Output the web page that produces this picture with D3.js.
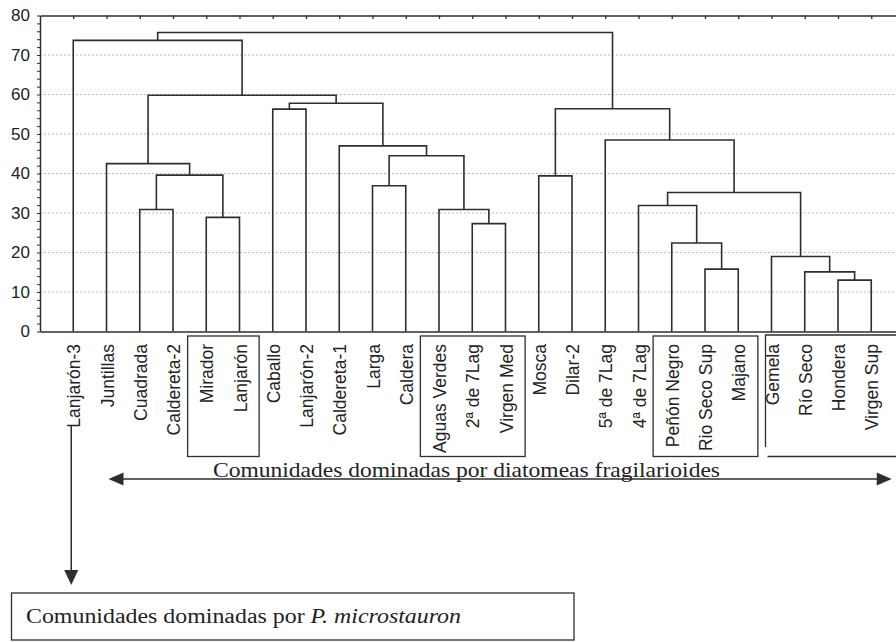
<!DOCTYPE html>
<html>
<head>
<meta charset="utf-8">
<script src="https://cdn.jsdelivr.net/npm/d3@7"></script>
<style>
body { margin: 0; background: #fff; }
svg { display: block; }
</style>
</head>
<body>
<svg id="chart" width="896" height="642"></svg>
<script>
// leaves in dendrogram order
var leaves = ['Lanjarón-3', 'Juntillas', 'Cuadrada', 'Caldereta-2', 'Mirador', 'Lanjarón', 'Caballo',
	'Lanjarón-2', 'Caldereta-1', 'Larga', 'Caldera', 'Aguas Verdes', '2ª de 7Lag', 'Virgen Med',
	'Mosca', 'Dilar-2', '5ª de 7Lag', '4ª de 7Lag', 'Peñón Negro', 'Rio Seco Sup', 'Majano',
	'Gemela', 'Río Seco', 'Hondera', 'Virgen Sup'];

// linkage: [left, right, height]; a string is a leaf, a number is an earlier merge
var merges = [
	['Cuadrada', 'Caldereta-2', 30.9],   // 0
	['Mirador', 'Lanjarón', 28.9],       // 1
	[0, 1, 39.6],                        // 2
	['Juntillas', 2, 42.5],              // 3
	['Caballo', 'Lanjarón-2', 56.3],     // 4
	['Larga', 'Caldera', 36.9],          // 5
	['2ª de 7Lag', 'Virgen Med', 27.3],  // 6
	['Aguas Verdes', 6, 30.9],           // 7
	[5, 7, 44.5],                        // 8
	['Caldereta-1', 8, 47.0],            // 9
	[4, 9, 57.8],                        // 10
	[3, 10, 59.8],                       // 11
	['Lanjarón-3', 11, 73.7],            // 12
	['Mosca', 'Dilar-2', 39.4],          // 13
	['Rio Seco Sup', 'Majano', 15.8],    // 14
	['Peñón Negro', 14, 22.4],           // 15
	['4ª de 7Lag', 15, 31.9],            // 16
	['Hondera', 'Virgen Sup', 13.0],     // 17
	['Río Seco', 17, 15.1],              // 18
	['Gemela', 18, 19.0],                // 19
	[16, 19, 35.2],                      // 20
	['5ª de 7Lag', 20, 48.5],            // 21
	[13, 21, 56.4],                      // 22
	[12, 22, 75.7]                       // 23
];

var yTicks = d3.range(0, 81, 2);
var gridValues = [10, 20, 30, 40, 50, 60, 70];
var boxedGroups = [['Mirador', 'Lanjarón'], ['Aguas Verdes', 'Virgen Med'], ['Peñón Negro', 'Majano']];
var openGroup = ['Gemela', 'Virgen Sup'];
var fragText = 'Comunidades dominadas por diatomeas fragilarioides';
var microText = ['Comunidades dominadas por ', 'P. microstauron'];

var ink = '#2e2e2e';
var sans = '"Liberation Sans", Arial, sans-serif';
var serif = '"Liberation Serif", "Times New Roman", serif';

var svg = d3.select('#chart');
var x = d3.scalePoint().domain(leaves).range([40, 904.5]).padding(1);
var y = d3.scaleLinear().domain([0, 80]).range([331.5, 15.5]);
var step = x.step();

// grid
svg.append('g').selectAll('line')
		.data(gridValues)
	.enter()
		.append('line')
		.attr('x1', 40).attr('x2', 896)
		.attr('y1', function (d) { return y(d); })
		.attr('y2', function (d) { return y(d); })
		.attr('stroke', '#b8b8b8')
		.attr('stroke-width', 1)
		.attr('stroke-dasharray', '2,2');

// left axis with minor ticks, labels every 10
var yAxis = svg.append('g')
	.attr('transform', 'translate(40,0)')
	.call(d3.axisLeft(y).tickValues(yTicks).tickSize(3).tickSizeOuter(0).tickPadding(7)
		.tickFormat(function (d) { return d % 10 === 0 ? d : ''; }));
yAxis.selectAll('line').attr('stroke', ink);
yAxis.select('.domain').attr('stroke', ink).attr('stroke-width', 1.5);
yAxis.selectAll('text').attr('font-family', sans).attr('font-size', 17).attr('fill', '#222');

// top frame with inward ticks
var topAxis = svg.append('g')
	.attr('transform', 'translate(0,' + y(80) + ')')
	.call(d3.axisTop(x).tickSize(-3.5).tickSizeOuter(0).tickFormat(''));
topAxis.selectAll('line').attr('stroke', ink).attr('stroke-width', 1.3);
topAxis.select('.domain').attr('stroke', ink).attr('stroke-width', 1.5);

// bottom axis with rotated leaf labels
var xAxis = svg.append('g')
	.attr('transform', 'translate(0,' + y(0) + ')')
	.call(d3.axisBottom(x).tickSize(0).tickSizeOuter(0));
xAxis.select('.domain').attr('stroke', ink).attr('stroke-width', 1.5);
xAxis.selectAll('text')
	.attr('font-family', sans)
	.attr('font-size', 17.5)
	.attr('fill', '#222')
	.attr('text-anchor', 'end')
	.attr('x', -12.5)
	.attr('y', 6.5)
	.attr('dy', null)
	.attr('transform', 'rotate(-90)');

// dendrogram links
var nodes = [];
var pos = function (ref) {
	if (typeof ref === 'string') {
		return {x: x(ref), h: 0};
	}
	return nodes[ref];
};
merges.forEach(function (m) {
	var a = pos(m[0]);
	var b = pos(m[1]);
	nodes.push({x: (a.x + b.x) / 2, h: m[2], a: a, b: b});
});
svg.append('g').selectAll('path')
		.data(nodes)
	.enter()
		.append('path')
		.attr('fill', 'none')
		.attr('stroke', ink)
		.attr('stroke-width', 1.6)
		.attr('d', function (d) {
			return 'M' + d.a.x + ',' + y(d.a.h) + 'V' + y(d.h) + 'H' + d.b.x + 'V' + y(d.b.h);
		});

// boxes round groups of labels
svg.append('g').selectAll('rect')
		.data(boxedGroups)
	.enter()
		.append('rect')
		.attr('x', function (d) { return x(d[0]) - step / 2 - 2; })
		.attr('width', function (d) { return x(d[1]) - x(d[0]) + step + 5; })
		.attr('y', 336)
		.attr('height', 120.5)
		.attr('fill', 'none')
		.attr('stroke', ink)
		.attr('stroke-width', 1.3);

// open bracket round the last group
var gx = x(openGroup[0]) - 6;
var bracket = svg.append('g').attr('stroke', ink).attr('stroke-width', 1.3).attr('fill', 'none');
bracket.append('path').attr('d', 'M' + gx + ',447V335H896');
bracket.append('path').attr('d', 'M' + (gx + 2) + ',456.5H896');

// horizontal double arrow
var ax0 = x(leaves[1]) + 2;
var ax1 = x(openGroup[1]) + 20.5;
var ay = 479;
svg.append('line')
	.attr('x1', ax0 + 10).attr('x2', ax1 - 10)
	.attr('y1', ay).attr('y2', ay)
	.attr('stroke', ink).attr('stroke-width', 1.5);
svg.append('path')
	.attr('d', 'M' + ax0 + ',' + ay + 'L' + (ax0 + 15) + ',' + (ay - 6.5) + 'L' + (ax0 + 15) + ',' + (ay + 6.5) + 'Z')
	.attr('fill', ink);
svg.append('path')
	.attr('d', 'M' + ax1 + ',' + ay + 'L' + (ax1 - 15) + ',' + (ay - 6.5) + 'L' + (ax1 - 15) + ',' + (ay + 6.5) + 'Z')
	.attr('fill', ink);
svg.append('text')
	.attr('x', 213)
	.attr('y', 476.5)
	.attr('font-family', serif)
	.attr('font-size', 21)
	.attr('fill', '#222')
	.attr('textLength', 507)
	.attr('lengthAdjust', 'spacingAndGlyphs')
	.text(fragText);

// vertical arrow from the first leaf
var vx = x(leaves[0]) - 2;
svg.append('line')
	.attr('x1', vx).attr('x2', vx)
	.attr('y1', 426).attr('y2', 575)
	.attr('stroke', ink).attr('stroke-width', 1.5);
svg.append('path')
	.attr('d', 'M' + vx + ',585L' + (vx - 7) + ',570L' + (vx + 7) + ',570Z')
	.attr('fill', ink);

// bottom box
svg.append('rect')
	.attr('x', 11.5).attr('y', 593)
	.attr('width', 562.5).attr('height', 47)
	.attr('fill', 'none')
	.attr('stroke', ink)
	.attr('stroke-width', 1.3);
var mt = svg.append('text')
	.attr('x', 26)
	.attr('y', 623.3)
	.attr('font-family', serif)
	.attr('font-size', 20)
	.attr('fill', '#222')
	.attr('textLength', 435)
	.attr('lengthAdjust', 'spacingAndGlyphs');
mt.append('tspan').text(microText[0]);
mt.append('tspan').attr('font-style', 'italic').text(microText[1]);
</script>
</body>
</html>
